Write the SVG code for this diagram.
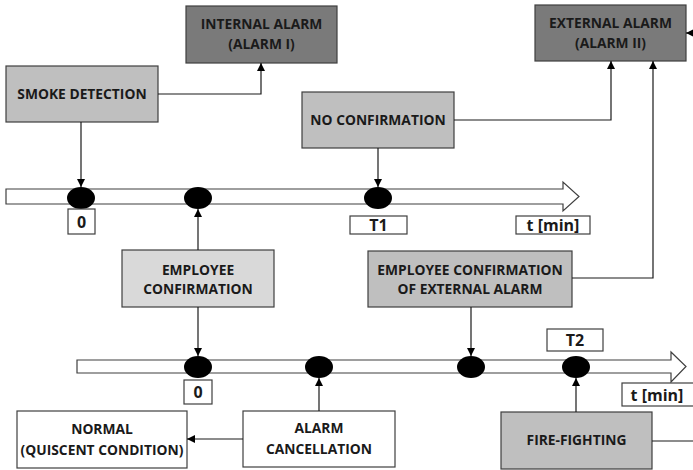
<svg xmlns="http://www.w3.org/2000/svg" width="693" height="470" viewBox="0 0 693 470">
  <style>
    .box { stroke: #3f3f3f; stroke-width: 1.2; }
    .dark { fill: #7a7a7a; }
    .mid { fill: #bfbfbf; }
    .light { fill: #d9d9d9; }
    .white { fill: #ffffff; }
    .lbl { font-family: "Open Sans", "Liberation Sans", sans-serif; font-weight: bold; font-size: 13.8px; fill: #1a1a1a; text-anchor: middle; }
    .num { font-family: "Open Sans", "Liberation Sans", sans-serif; font-weight: bold; font-size: 16px; fill: #1a1a1a; text-anchor: middle; }
    .tag { fill: #ffffff; stroke: #3f3f3f; stroke-width: 1.2; }
    .bar { fill: #ffffff; stroke: #3f3f3f; stroke-width: 1.2; }
    .dot { fill: #000000; }
    .wire { fill: none; stroke: #1a1a1a; stroke-width: 1.2; }
  </style>
  <defs>
    <marker id="arrow" viewBox="0 0 10 10" refX="10" refY="5" markerWidth="8" markerHeight="8" markerUnits="userSpaceOnUse" orient="auto">
      <path d="M0,0 L10,5 L0,10 Z" fill="#000"/>
    </marker>
  </defs>

  <rect width="693" height="470" fill="#ffffff"/>

  <!-- time axes -->
  <g id="axis-top">
    <path class="bar" d="M6,189 H563 V182 L579,196.5 L563,211 V204 H6 Z"/>
    <ellipse class="dot" cx="81" cy="198" rx="14" ry="11"/>
    <ellipse class="dot" cx="198" cy="198" rx="14" ry="11"/>
    <ellipse class="dot" cx="378" cy="198" rx="14" ry="11"/>
    <rect class="tag" x="68" y="209" width="27" height="25"/>
    <text class="num" x="81.5" y="228">0</text>
    <rect class="tag" x="350" y="216" width="57" height="18"/>
    <text class="num" x="378.5" y="231">T1</text>
    <rect class="tag" x="516" y="216" width="74" height="18"/>
    <text class="num" x="553" y="231">t [min]</text>
  </g>

  <g id="axis-bottom">
    <path class="bar" d="M77,360 H671 V352 L686,366.5 L671,382 V373 H77 Z"/>
    <ellipse class="dot" cx="198" cy="367" rx="14" ry="11"/>
    <ellipse class="dot" cx="319" cy="367" rx="14" ry="11"/>
    <ellipse class="dot" cx="471" cy="367" rx="14" ry="11"/>
    <ellipse class="dot" cx="576" cy="367" rx="14" ry="11"/>
    <rect class="tag" x="184" y="380" width="28" height="24"/>
    <text class="num" x="198" y="398">0</text>
    <rect class="tag" x="547" y="329" width="56" height="22"/>
    <text class="num" x="575" y="346">T2</text>
    <rect class="tag" x="622" y="383" width="76" height="23"/>
    <text class="num" x="657" y="401">t [min]</text>
  </g>

  <!-- nodes -->
  <g id="internal-alarm">
    <rect class="box dark" x="186" y="6" width="151" height="57"/>
    <text class="lbl" x="261.5" y="29">INTERNAL ALARM</text>
    <text class="lbl" x="261.5" y="49">(ALARM I)</text>
  </g>
  <g id="smoke-detection">
    <rect class="box mid" x="6" y="66" width="152" height="56"/>
    <text class="lbl" x="82" y="99">SMOKE DETECTION</text>
  </g>
  <g id="no-confirmation">
    <rect class="box mid" x="302" y="92" width="152" height="56"/>
    <text class="lbl" x="378" y="125">NO CONFIRMATION</text>
  </g>
  <g id="external-alarm">
    <rect class="box dark" x="535" y="5" width="151" height="56"/>
    <text class="lbl" x="610.5" y="28">EXTERNAL ALARM</text>
    <text class="lbl" x="610.5" y="48">(ALARM II)</text>
  </g>
  <g id="employee-confirmation">
    <rect class="box light" x="122" y="250" width="152" height="57"/>
    <text class="lbl" x="198" y="275">EMPLOYEE</text>
    <text class="lbl" x="198" y="294">CONFIRMATION</text>
  </g>
  <g id="employee-confirmation-external">
    <rect class="box mid" x="368" y="251" width="204" height="56"/>
    <text class="lbl" x="470" y="275">EMPLOYEE CONFIRMATION</text>
    <text class="lbl" x="470" y="294">OF EXTERNAL ALARM</text>
  </g>
  <g id="normal">
    <rect class="box white" x="17" y="411" width="170" height="57"/>
    <text class="lbl" x="102" y="434">NORMAL</text>
    <text class="lbl" x="102" y="455">(QUISCENT CONDITION)</text>
  </g>
  <g id="alarm-cancellation">
    <rect class="box white" x="243" y="411" width="152" height="56"/>
    <text class="lbl" x="319" y="433">ALARM</text>
    <text class="lbl" x="319" y="454">CANCELLATION</text>
  </g>
  <g id="fire-fighting">
    <rect class="box mid" x="501" y="412" width="151" height="57"/>
    <text class="lbl" x="576.5" y="445">FIRE-FIGHTING</text>
  </g>

  <!-- connectors -->
  <g id="connectors">
    <path class="wire" d="M158,94 H261 V63" marker-end="url(#arrow)"/>
    <path class="wire" d="M81,122 V187" marker-end="url(#arrow)"/>
    <path class="wire" d="M198,250 V209" marker-end="url(#arrow)"/>
    <path class="wire" d="M378,148 V187" marker-end="url(#arrow)"/>
    <path class="wire" d="M454,120 H611 V61" marker-end="url(#arrow)"/>
    <path class="wire" d="M572,278 H653 V61" marker-end="url(#arrow)"/>
    <path class="wire" d="M198,307 V356" marker-end="url(#arrow)"/>
    <path class="wire" d="M471,307 V356" marker-end="url(#arrow)"/>
    <path class="wire" d="M243,439 H187" marker-end="url(#arrow)"/>
    <path class="wire" d="M319,411 V378" marker-end="url(#arrow)"/>
    <path class="wire" d="M576,412 V378" marker-end="url(#arrow)"/>
    <path class="wire" d="M652,441 H693"/>
    <path class="wire" d="M693,33 H686" marker-end="url(#arrow)"/>
  </g>
</svg>
